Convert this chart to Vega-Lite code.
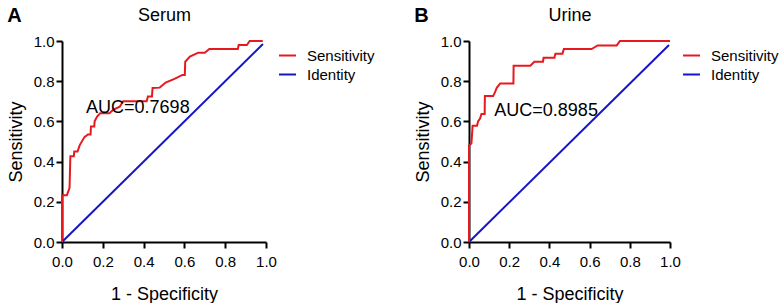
{
  "$schema": "https://vega.github.io/schema/vega-lite/v6.json",
  "background": "white",
  "padding": {"left": 7, "top": 6, "right": 0, "bottom": 0},
  "config": {
    "font": "Liberation Sans",
    "view": {"stroke": null},
    "axis": {
      "domainColor": "black", "domainWidth": 2, "tickColor": "black", "tickWidth": 2, "tickSize": 6,
      "labelColor": "black", "labelFontSize": 15, "labelFont": "Liberation Sans", "labelFlush": false,
      "titleFont": "Liberation Sans", "titleFontSize": 18, "titleFontWeight": "normal", "titleColor": "black", "grid": false
    },
    "title": {"font": "Liberation Sans", "color": "black"}
  },
  "datasets": {
    "serum": [
      {"i": 0, "fpr": 0, "sens": 0, "series": "Identity"},
      {"i": 1, "fpr": 0.985, "sens": 0.985, "series": "Identity"},
      {"i": 0, "fpr": 0, "sens": 0, "series": "Sensitivity"},
      {"i": 1, "fpr": 0, "sens": 0.233, "series": "Sensitivity"},
      {"i": 2, "fpr": 0.024, "sens": 0.233, "series": "Sensitivity"},
      {"i": 3, "fpr": 0.037, "sens": 0.27, "series": "Sensitivity"},
      {"i": 4, "fpr": 0.041, "sens": 0.427, "series": "Sensitivity"},
      {"i": 5, "fpr": 0.058, "sens": 0.427, "series": "Sensitivity"},
      {"i": 6, "fpr": 0.06, "sens": 0.45, "series": "Sensitivity"},
      {"i": 7, "fpr": 0.076, "sens": 0.45, "series": "Sensitivity"},
      {"i": 8, "fpr": 0.087, "sens": 0.482, "series": "Sensitivity"},
      {"i": 9, "fpr": 0.11, "sens": 0.522, "series": "Sensitivity"},
      {"i": 10, "fpr": 0.127, "sens": 0.535, "series": "Sensitivity"},
      {"i": 11, "fpr": 0.14, "sens": 0.535, "series": "Sensitivity"},
      {"i": 12, "fpr": 0.142, "sens": 0.575, "series": "Sensitivity"},
      {"i": 13, "fpr": 0.158, "sens": 0.575, "series": "Sensitivity"},
      {"i": 14, "fpr": 0.16, "sens": 0.6, "series": "Sensitivity"},
      {"i": 15, "fpr": 0.172, "sens": 0.624, "series": "Sensitivity"},
      {"i": 16, "fpr": 0.187, "sens": 0.64, "series": "Sensitivity"},
      {"i": 17, "fpr": 0.232, "sens": 0.64, "series": "Sensitivity"},
      {"i": 18, "fpr": 0.25, "sens": 0.657, "series": "Sensitivity"},
      {"i": 19, "fpr": 0.283, "sens": 0.673, "series": "Sensitivity"},
      {"i": 20, "fpr": 0.3, "sens": 0.7, "series": "Sensitivity"},
      {"i": 21, "fpr": 0.415, "sens": 0.7, "series": "Sensitivity"},
      {"i": 22, "fpr": 0.421, "sens": 0.724, "series": "Sensitivity"},
      {"i": 23, "fpr": 0.441, "sens": 0.724, "series": "Sensitivity"},
      {"i": 24, "fpr": 0.444, "sens": 0.766, "series": "Sensitivity"},
      {"i": 25, "fpr": 0.479, "sens": 0.768, "series": "Sensitivity"},
      {"i": 26, "fpr": 0.508, "sens": 0.793, "series": "Sensitivity"},
      {"i": 27, "fpr": 0.554, "sens": 0.813, "series": "Sensitivity"},
      {"i": 28, "fpr": 0.59, "sens": 0.831, "series": "Sensitivity"},
      {"i": 29, "fpr": 0.602, "sens": 0.831, "series": "Sensitivity"},
      {"i": 30, "fpr": 0.604, "sens": 0.897, "series": "Sensitivity"},
      {"i": 31, "fpr": 0.627, "sens": 0.922, "series": "Sensitivity"},
      {"i": 32, "fpr": 0.668, "sens": 0.942, "series": "Sensitivity"},
      {"i": 33, "fpr": 0.7, "sens": 0.942, "series": "Sensitivity"},
      {"i": 34, "fpr": 0.722, "sens": 0.96, "series": "Sensitivity"},
      {"i": 35, "fpr": 0.862, "sens": 0.96, "series": "Sensitivity"},
      {"i": 36, "fpr": 0.866, "sens": 0.98, "series": "Sensitivity"},
      {"i": 37, "fpr": 0.906, "sens": 0.98, "series": "Sensitivity"},
      {"i": 38, "fpr": 0.92, "sens": 1.0, "series": "Sensitivity"},
      {"i": 39, "fpr": 0.984, "sens": 1.0, "series": "Sensitivity"}
    ],
    "urine": [
      {"i": 0, "fpr": 0, "sens": 0, "series": "Identity"},
      {"i": 1, "fpr": 0.995, "sens": 0.98, "series": "Identity"},
      {"i": 0, "fpr": 0, "sens": 0, "series": "Sensitivity"},
      {"i": 1, "fpr": 0, "sens": 0.48, "series": "Sensitivity"},
      {"i": 2, "fpr": 0.012, "sens": 0.49, "series": "Sensitivity"},
      {"i": 3, "fpr": 0.018, "sens": 0.578, "series": "Sensitivity"},
      {"i": 4, "fpr": 0.04, "sens": 0.578, "series": "Sensitivity"},
      {"i": 5, "fpr": 0.045, "sens": 0.6, "series": "Sensitivity"},
      {"i": 6, "fpr": 0.055, "sens": 0.614, "series": "Sensitivity"},
      {"i": 7, "fpr": 0.062, "sens": 0.637, "series": "Sensitivity"},
      {"i": 8, "fpr": 0.078, "sens": 0.637, "series": "Sensitivity"},
      {"i": 9, "fpr": 0.079, "sens": 0.726, "series": "Sensitivity"},
      {"i": 10, "fpr": 0.12, "sens": 0.726, "series": "Sensitivity"},
      {"i": 11, "fpr": 0.13, "sens": 0.747, "series": "Sensitivity"},
      {"i": 12, "fpr": 0.138, "sens": 0.767, "series": "Sensitivity"},
      {"i": 13, "fpr": 0.155, "sens": 0.789, "series": "Sensitivity"},
      {"i": 14, "fpr": 0.221, "sens": 0.789, "series": "Sensitivity"},
      {"i": 15, "fpr": 0.222, "sens": 0.877, "series": "Sensitivity"},
      {"i": 16, "fpr": 0.305, "sens": 0.877, "series": "Sensitivity"},
      {"i": 17, "fpr": 0.325, "sens": 0.897, "series": "Sensitivity"},
      {"i": 18, "fpr": 0.368, "sens": 0.897, "series": "Sensitivity"},
      {"i": 19, "fpr": 0.371, "sens": 0.917, "series": "Sensitivity"},
      {"i": 20, "fpr": 0.425, "sens": 0.917, "series": "Sensitivity"},
      {"i": 21, "fpr": 0.43, "sens": 0.937, "series": "Sensitivity"},
      {"i": 22, "fpr": 0.465, "sens": 0.937, "series": "Sensitivity"},
      {"i": 23, "fpr": 0.472, "sens": 0.96, "series": "Sensitivity"},
      {"i": 24, "fpr": 0.61, "sens": 0.96, "series": "Sensitivity"},
      {"i": 25, "fpr": 0.64, "sens": 0.978, "series": "Sensitivity"},
      {"i": 26, "fpr": 0.735, "sens": 0.978, "series": "Sensitivity"},
      {"i": 27, "fpr": 0.751, "sens": 1.0, "series": "Sensitivity"},
      {"i": 28, "fpr": 1.0, "sens": 1.0, "series": "Sensitivity"}
    ]
  },
  "bounds": "flush",
  "spacing": 203,
  "resolve": {"scale": {"color": "independent"}, "legend": {"color": "independent"}},
  "hconcat": [
    {
      "width": 204,
      "height": 201,
      "title": {"text": "A", "anchor": "start", "frame": "bounds", "fontSize": 20, "fontWeight": "bold", "baseline": "alphabetic", "offset": -36},
      "resolve": {"axis": {"x": "independent"}},
      "layer": [
        {
          "data": {"name": "serum"},
          "mark": {"type": "line", "strokeWidth": 2},
          "encoding": {
            "x": {"field": "fpr", "type": "quantitative", "scale": {"domain": [0, 1]},
                  "axis": {"title": "1 - Specificity", "values": [0, 0.2, 0.4, 0.6, 0.8, 1], "format": ".1f", "labelPadding": 6, "titlePadding": 16}},
            "y": {"field": "sens", "type": "quantitative", "scale": {"domain": [0, 1]},
                  "axis": {"title": "Sensitivity", "values": [0, 0.2, 0.4, 0.6, 0.8, 1], "format": ".1f", "labelPadding": 2, "titlePadding": 8}},
            "color": {"field": "series", "type": "nominal",
                      "scale": {"domain": ["Sensitivity", "Identity"], "range": ["#e8191e", "#1414c8"]},
                      "legend": {"title": null, "orient": "none", "legendX": 216, "legendY": 5, "symbolType": "stroke", "symbolSize": 289, "symbolStrokeWidth": 2, "labelFontSize": 15, "labelColor": "black", "labelOffset": 10, "rowPadding": 1, "padding": 0}},
            "order": {"field": "i", "type": "quantitative"}
          }
        },
        {
          "data": {"values": [{"label": "AUC=0.7698", "fpr": 0.118, "sens": 0.644}]},
          "mark": {"type": "text", "align": "left", "baseline": "alphabetic", "fontSize": 18, "font": "Liberation Sans", "color": "black"},
          "encoding": {
            "x": {"field": "fpr", "type": "quantitative", "scale": {"domain": [0, 1]},
                  "axis": {"orient": "top", "title": "Serum", "domain": false, "ticks": false, "labels": false, "titlePadding": 21, "titleBaseline": "alphabetic"}},
            "y": {"field": "sens", "type": "quantitative"},
            "text": {"field": "label"}
          }
        }
      ]
    },
    {
      "width": 201,
      "height": 201,
      "title": {"text": "B", "anchor": "start", "frame": "bounds", "fontSize": 20, "fontWeight": "bold", "baseline": "alphabetic", "offset": -36},
      "resolve": {"axis": {"x": "independent"}},
      "layer": [
        {
          "data": {"name": "urine"},
          "mark": {"type": "line", "strokeWidth": 2},
          "encoding": {
            "x": {"field": "fpr", "type": "quantitative", "scale": {"domain": [0, 1]},
                  "axis": {"title": "1 - Specificity", "values": [0, 0.2, 0.4, 0.6, 0.8, 1], "format": ".1f", "labelPadding": 6, "titlePadding": 16}},
            "y": {"field": "sens", "type": "quantitative", "scale": {"domain": [0, 1]},
                  "axis": {"title": "Sensitivity", "values": [0, 0.2, 0.4, 0.6, 0.8, 1], "format": ".1f", "labelPadding": 2, "titlePadding": 8}},
            "color": {"field": "series", "type": "nominal",
                      "scale": {"domain": ["Sensitivity", "Identity"], "range": ["#e8191e", "#1414c8"]},
                      "legend": {"title": null, "orient": "none", "legendX": 213, "legendY": 5, "symbolType": "stroke", "symbolSize": 289, "symbolStrokeWidth": 2, "labelFontSize": 15, "labelColor": "black", "labelOffset": 10, "rowPadding": 1, "padding": 0}},
            "order": {"field": "i", "type": "quantitative"}
          }
        },
        {
          "data": {"values": [{"label": "AUC=0.8985", "fpr": 0.126, "sens": 0.629}]},
          "mark": {"type": "text", "align": "left", "baseline": "alphabetic", "fontSize": 18, "font": "Liberation Sans", "color": "black"},
          "encoding": {
            "x": {"field": "fpr", "type": "quantitative", "scale": {"domain": [0, 1]},
                  "axis": {"orient": "top", "title": "Urine", "domain": false, "ticks": false, "labels": false, "titlePadding": 21, "titleBaseline": "alphabetic"}},
            "y": {"field": "sens", "type": "quantitative"},
            "text": {"field": "label"}
          }
        }
      ]
    }
  ]
}
